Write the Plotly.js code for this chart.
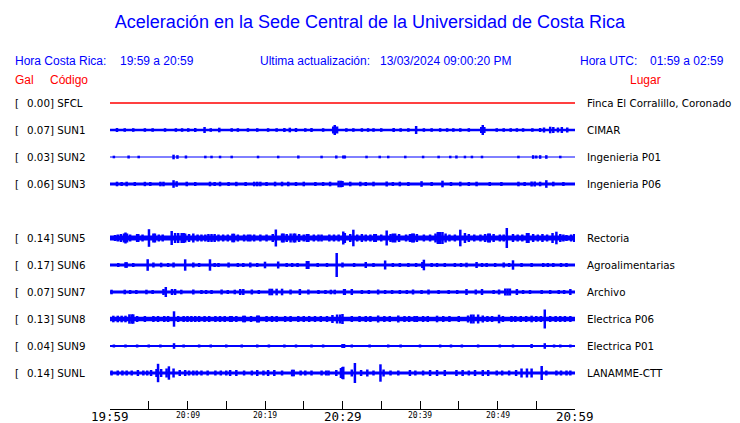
<!DOCTYPE html>
<html>
<head>
<meta charset="utf-8">
<script src="https://cdn.plot.ly/plotly-3.0.1.min.js"></script>
<style>html,body{margin:0;padding:0;background:#fff}#chart{width:740px;height:423px}</style>
</head>
<body>
<div id="chart"></div>
<script>
// ---- data ----
const stations = ['SFCL','SUN1','SUN2','SUN3','SUN5','SUN6','SUN7','SUN8','SUN9','SUNL'];
const galValues = ['0.00','0.07','0.03','0.06','0.14','0.17','0.07','0.13','0.04','0.14'];
const places = ['Finca El Corralillo, Coronado','CIMAR','Ingenieria P01','Ingenieria P06','Rectoria','Agroalimentarias','Archivo','Electrica P06','Electrica P01','LANAMME-CTT'];
const rowSlots = [0,1,2,3,5,6,7,8,9,10];
// background noise level (half amplitude, trace units)
const noiseLevel = [0, 1.3, 0.5, 1.5, 2.4, 1.5, 1.5, 2.3, 1.0, 1.6];
const tickMinutes = [0,5,10,15,20,25,30,35,40,45,50,55,60];
const bigTickLabels = {0:'19:59', 30:'20:29', 60:'20:59'};
const smallTickLabels = {10:'20:09', 20:'20:19', 40:'20:39', 50:'20:49'};

// peaks: minutes after 19:59 and half amplitude
const sun1T = [0.9,1.9,4.5,7.1,10.1,12.2,14.1,15.7,17.8,20.4,23.2,25.2,28.8,29.0,29.3,31.4,34.0,36.6,39.5,42.6,45.2,47.9,48.1,48.3,49.9,52.5,55.5,56.8,57.2,58.3,
               3.0,5.5,8.5,9.3,11.0,13.0,16.5,19.0,21.5,22.5,24.0,26.0,27.5,30.5,32.5,33.3,35.0,37.5,38.5,40.5,41.5,43.5,44.3,46.3,50.8,51.7,53.3,54.5,56.0,57.8,59.0];
const sun1A = [2,1.8,1.8,1.8,1.8,3,2.3,1.8,1.8,1.8,2.3,1.8,3.5,5,3.5,1.8,1.8,2,4,1.8,1.8,3,5,3,1.8,1.8,2,3.3,3,3,
               1.8,1.8,1.8,1.8,2,1.8,1.8,1.8,1.8,2,2,2,1.8,1.8,1.8,1.8,1.8,1.8,1.8,1.8,1.8,1.8,1.8,1.8,1.8,1.8,1.8,1.8,2.5,2.5,2.5];
const sun2T = [0.5,2.4,3.7,8.2,8.7,9.8,12.3,13.1,14.2,15.7,19.1,21.7,24.3,27.3,29.2,30.1,30.3,33.1,34.8,35.9,38.1,40.4,42.4,43.9,44.7,45.8,46.7,48.0,52.7,54.6,55.0,55.5,56.3,58.1];
const sun2A = [1.3,1.5,1.3,2.3,1.8,1.5,1.3,1.3,1.3,1.3,1.3,1.3,1.5,1.3,1.5,1.5,1.5,1.3,1.3,1.3,1.3,1.3,1.3,1.3,1.5,1.3,1.3,1.3,1.3,1.8,1.5,1.8,1.8,1.3];
const sun3T = [0.9,2.15,4.5,6.5,6.9,8.2,8.6,9.9,12.9,14.2,16.3,18.6,19.0,19.4,21.3,22.2,23.0,25.0,28.4,29.5,29.8,30.0,31.0,32.3,34.0,35.7,37.4,40.2,42.9,45.2,47.3,52.7,54.4,54.8,56.3,
               1.5,3.2,5.2,11.0,13.5,15.3,17.5,20.2,24.0,26.5,27.5,33.0,36.5,38.5,41.5,44.0,46.3,49.0,50.5,53.5,55.5,57.2,58.5];
const sun3A = [2.3,2.3,2.2,2.3,2.3,3.8,2.8,2.3,2.3,2.3,2.2,2.3,2.3,2.3,2.3,2.3,2.3,2.3,2.3,3.3,3.3,3,2.3,2.3,2.3,2.5,2.3,2.8,3.3,2.3,2.3,2.3,2.5,2.5,3.8,
               2,2,2,2,2,2,2,2,2,2,2,2,2,2,2,2,2,2,2,2,2.3,2.3,2];
const sun5T = [0.65,1.8,2.0,2.2,3.5,3.65,5.03,5.6,5.8,7.96,8.8,9.25,9.7,10.75,12.7,13.1,13.5,15.8,16.0,17.8,18.1,21.4,22.2,22.4,23.7,23.9,25.4,25.6,27.3,29.5,30.1,30.3,31.4,32.5,34.1,34.3,35.7,36.5,36.8,39.0,39.2,42.3,42.6,42.9,45.2,45.8,48.8,49.0,51.2,52.0,53.8,54.0,55.8,57.6,58.9,
               1.0,1.4,2.6,4.2,6.3,6.8,8.4,9.5,10.2,11.3,11.8,12.3,14.0,14.6,15.2,16.5,17.3,18.6,19.4,20.2,21.0,22.8,23.3,24.4,25.0,26.3,26.9,28.3,28.9,31.0,31.9,33.0,33.6,35.0,36.2,37.3,38.2,38.7,39.6,40.5,41.3,42.0,43.3,43.8,44.5,46.3,47.0,47.8,48.4,49.5,50.3,50.8,52.6,53.2,54.6,55.2,56.4,57.1,58.1,58.5,59.5,59.9];
const sun5A = [3,4.5,5.5,4.5,4,4,8.8,4.5,4.5,7,5,5,4.5,4.5,4,4,4,4.3,4.3,3.5,3.5,8.5,4.5,4.5,4.5,4.5,4,4,3.5,3.5,6.5,5,8.3,4,4,4,7.5,4.5,4.5,4.5,4.5,6,6,6,8.3,5,4.5,4.5,10,4,5,5,4,6.3,3,
               3.5,4,3.5,3.5,3.5,3.5,5,5,4,3.5,3.5,3.5,3.5,3.5,3.5,3.5,3.5,3.5,3.5,3.5,4,4,4.5,4,3.5,3.5,3.5,3.5,3.5,4,3.5,3.5,3.5,3.5,4,4,3.5,4,4,3.5,3.5,4.5,4.5,3.5,3.5,4,3.5,3.5,4,4,3.5,3.5,3.5,3.5,4,3.5,3.5,5,4,3.5,3.5,4];
const sun6T = [1.07,2.0,2.15,4.86,5.6,6.6,8.2,9.7,10.75,12.9,14.0,15.3,18.1,20.0,21.7,22.8,25.4,25.6,28.0,29.25,30.0,33.0,35.5,37.4,40.3,40.5,42.2,43.2,44.5,46.0,47.3,48.6,49.7,50.8,52.0,53.1,54.4,55.9,57.2,58.9,
               3.0,7.5,11.5,13.5,16.5,17.2,19.0,23.5,24.2,26.8,31.5,34.0,36.5,38.5,39.5,41.5,45.3,48.0,51.5,56.5,58.2];
const sun6A = [2,2.8,2.8,5.8,2.5,2.3,2.5,5.7,2.5,5.7,2,2.5,2.5,3.3,3.5,2,4,4,2,12,2.5,3,4.5,2,3,5.3,2,2,2,2.3,3,2,2,2.5,4.7,2,2,2,2,2,
               2,2,2,2,2,2,2,2,2,2,2,2,2,2,2,2,2,2,2,2,2];
const sun7T = [0.2,1.9,3.4,4.7,6.9,7.2,8.0,8.4,10.75,11.8,13.1,14.4,16.8,17.2,18.3,20.6,20.9,21.5,22.2,24.5,25.6,26.9,29.0,30.2,30.3,31.2,32.5,34.6,37.4,38.3,39.1,41.1,43.7,46.0,48.0,49.5,51.0,51.3,51.6,52.5,54.2,55.7,56.8,57.9,59.4,
               2.6,5.5,9.2,12.4,15.2,16.1,19.2,23.3,27.8,28.5,33.4,35.5,36.4,40.2,42.4,44.8,47.2,50.2,53.3,58.6];
const sun7A = [2.3,2.3,2,2.3,3,5,3,3,2.5,2,2,2.5,3,3,2.5,3.3,3.3,3.3,3.3,3,2.5,2,2.3,3,3,3,2,2.5,2,2,2.5,2.5,2,3,3,2,3.5,3.5,3.5,3,2,2,2,2,3,
               2,2,2.3,2,2,2.3,2,2.5,2,2.3,2,2,2,2,2,2,2.5,2.5,2,2];
const sun8T = [0.43,1.0,2.5,2.8,3.0,4.5,5.6,7.0,8.26,8.8,10.5,11.0,11.5,13.6,15.5,15.7,17.2,17.4,19.0,19.2,20.9,22.6,24.3,26.45,29.3,29.7,30.0,31.2,33.6,34.6,37.2,39.3,39.6,42.2,45.0,46.6,46.9,47.5,50.2,51.8,54.4,56.1,58.1,59.4,
               1.5,2.0,3.5,6.2,7.5,9.5,10.0,12.2,12.8,14.2,14.8,16.3,18.2,20.2,21.5,23.3,25.0,25.7,27.2,28.0,28.7,32.2,33.0,35.4,36.1,38.0,38.6,40.4,41.0,43.0,43.8,46.2,48.1,48.7,49.3,50.7,52.3,53.0,53.7,55.0,55.6,56.8,57.5,58.7];
const sun8A = [3.3,3.3,4.7,4.7,4.7,3,3,3,7.7,3,3,3,3,3,3,3,3.3,3.3,3.5,3.5,3,3,3,3,4.5,4.5,5,3,3,3.5,3.5,3,3,3.3,3,4.5,4.5,4.5,4.3,3,3.3,9.5,3,3,
               3.3,3.3,3,3,3,3,3,3,3,3,3,3,3,3,3,3,3,3,3,3,4,3,3,3,3,3,3,3,3,3,3,3.5,3.5,3,3,3,3,3,3,3,3,3,3,3];
const sun9T = [2.0,5.0,8.26,11.5,15.0,19.0,22.5,26.0,30.0,30.2,31.2,35.9,40.0,42.6,45.4,50.3,54.4,56.1,58.1,59.4,
               0.5,3.5,6.5,9.5,13.0,17.0,20.5,24.0,27.5,33.5,37.5,44.0,47.5,52.0,57.3];
const sun9A = [1.5,1.5,2.8,1.5,1.5,1.5,1.5,1.5,2,2,1.5,1.5,1.5,1.5,1.5,1.5,2,2.8,1.5,1.5,
               1.5,1.5,1.5,1.5,1.5,1.5,1.5,1.5,1.5,1.5,1.5,1.5,1.5,1.5,1.5];
const sunLT = [0.2,2.15,3.6,5.3,6.0,6.2,6.6,7.3,7.6,8.2,9.7,10.75,11.8,13.6,15.5,18.3,20.4,23.5,23.7,26.0,27.3,28.2,29.8,30.0,30.1,31.2,31.6,33.2,34.9,35.3,38.7,40.4,42.2,44.7,47.1,49.9,53.1,53.8,54.4,55.7,57.6,59.4,
               1.0,1.6,2.8,4.3,4.8,9.0,10.2,11.2,12.6,14.3,15.0,16.3,17.3,19.0,19.8,21.2,22.2,24.6,25.2,27.9,29.2,32.4,34.0,36.2,37.2,39.4,41.3,43.2,45.5,46.3,48.1,48.8,50.6,51.5,52.4,56.3,58.2,58.9];
const sunLA = [2.5,2.5,3,3,4,9.2,4,4.5,6.7,4.5,3,2.5,2.5,2.5,3,2.5,3,3.3,3.3,2.5,2.5,2.5,5,6,6.3,3.5,10,3.5,8.7,3.5,3,2.5,3,3,3,2.5,4.5,4.5,4.5,7,2.5,2.5,
               2.5,2.5,2.5,2.5,2.5,3,2.5,2.5,2.5,2.5,2.5,3,2.5,3,2.5,3,2.5,2.5,2.5,2.5,3,3,2.5,2.5,2.5,2.5,3,3,3,2.5,3,3,2.5,2.5,3,2.5,2.5,2.5];
const peakTimes = [[], sun1T, sun2T, sun3T, sun5T, sun6T, sun7T, sun8T, sun9T, sunLT];
const peakAmps  = [[], sun1A, sun2A, sun3A, sun5A, sun6A, sun7A, sun8A, sun9A, sunLA];

// ---- drawing ----
const ROW_PX = 27;           // pixel pitch between rows
const BLUE = '#0000ff';
const traces = [];
stations.forEach((s, k) => {
  const c = -rowSlots[k];
  if (k === 0) {
    traces.push({x:[0,60], y:[c,c], mode:'lines', line:{color:'#ff0000', width:1.5}, hoverinfo:'skip'});
    return;
  }
  traces.push({x:[0,60], y:[c,c], mode:'lines', line:{color:BLUE, width:2*noiseLevel[k]}, hoverinfo:'skip'});
  const xs = [], ys = [];
  peakTimes[k].forEach((t, j) => {
    const a = peakAmps[k][j] / ROW_PX;
    xs.push(t, t, null);
    ys.push(c - a, c + a, null);
  });
  traces.push({x:xs, y:ys, mode:'lines', line:{color:BLUE, width:2.5}, hoverinfo:'skip', connectgaps:false});
});

const L = 110, R = 575, T = 90, B = 409;
const px = v => (v - L) / (R - L);
const py = v => (B - v) / (B - T);
const ann = [];
const hdr = {family:'Liberation Sans, Arial, sans-serif', size:12, color:BLUE};
const red = {family:'Liberation Sans, Arial, sans-serif', size:12, color:'#ff0000'};
const lab = {family:'DejaVu Sans, sans-serif', size:10.3, color:'#000'};
function a(text, x, y, font, xanchor) {
  ann.push({text, x:px(x - 2), y:py(y), xref:'paper', yref:'paper', showarrow:false, font, xanchor:xanchor||'left', yanchor:'middle'});
}
a('Hora Costa Rica:', 15, 61, hdr);
a('19:59 a 20:59', 120, 61, hdr);
a('Ultima actualización:', 260, 61, hdr);
a('13/03/2024 09:00:20 PM', 380, 61, hdr);
a('Hora UTC:', 580, 61, hdr);
a('01:59 a 02:59', 650, 61, hdr);
a('Gal', 15, 80, red);
a('Código', 50, 80, red);
a('Lugar', 630, 80, red);
stations.forEach((s, k) => {
  const yc = 103 + rowSlots[k] * ROW_PX;
  a('[', 15, yc, lab);
  a(galValues[k] + '] ' + s, 27, yc, lab);
  a(places[k], 587, yc, lab);
});
tickMinutes.forEach(m => {
  if (bigTickLabels[m]) ann.push({text:bigTickLabels[m], x:m, xref:'x', y:py(416), yref:'paper', showarrow:false, xanchor:'center', yanchor:'middle', font:{family:'DejaVu Sans Mono, monospace', size:12.5, color:'#000'}});
  if (smallTickLabels[m]) ann.push({text:smallTickLabels[m], x:m, xref:'x', y:py(415), yref:'paper', showarrow:false, xanchor:'center', yanchor:'middle', font:{family:'DejaVu Sans Mono, monospace', size:8, color:'#000'}});
});

const layout = {
  width:740, height:423,
  margin:{l:L, r:740-R, t:T, b:423-B, pad:0},
  paper_bgcolor:'#fff', plot_bgcolor:'#fff',
  showlegend:false,
  title:{text:'Aceleración en la Sede Central de la Universidad de Costa Rica', xref:'container', x:0.5, xanchor:'center', yref:'container', y:1-22/423, yanchor:'middle', font:{family:'Liberation Sans, Arial, sans-serif', size:18, color:BLUE}},
  xaxis:{range:[0,60], showgrid:false, zeroline:false, showline:true, linecolor:'#000', linewidth:1, ticks:'inside', ticklen:8, tickcolor:'#000', tickwidth:1, tickvals:tickMinutes, showticklabels:false, fixedrange:true},
  yaxis:{range:[-(B-103)/ROW_PX, (103-T)/ROW_PX], showgrid:false, zeroline:false, showline:false, showticklabels:false, ticks:'', fixedrange:true},
  annotations:ann
};
Plotly.newPlot('chart', traces, layout, {staticPlot:true, displayModeBar:false});
</script>
</body>
</html>
